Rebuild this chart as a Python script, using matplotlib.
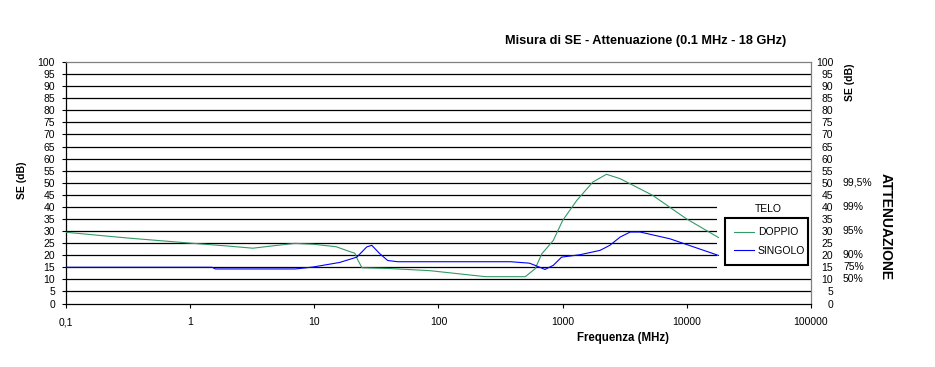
import matplotlib
matplotlib.use('Agg')
import matplotlib.pyplot as plt
from matplotlib.patches import Rectangle

# Frequenze (MHz) e SE (dB)
freq_doppio = [0.1, 0.3, 1, 2, 3.2, 4.5, 7, 10, 15, 18.3, 21.2, 22.4, 24.2, 40, 85,
               240, 500, 600, 680, 840, 1000, 1300, 1750, 2250, 2900, 5300, 9900, 18000]
se_doppio = [29.5, 27.2, 25, 23.8, 22.9, 23.8, 24.9, 24.5, 23.5, 21.9, 20.8, 18, 14.8, 14.5, 13.6,
             11.1, 11.1, 14.4, 20.6, 26.1, 34.4, 42.7, 50.3, 53.5, 51.7, 44.8, 35.1, 27.3]

freq_singolo = [0.1, 1.5, 1.6, 7, 9.75, 16, 22, 26.4, 29, 33.7, 39, 47, 100, 380, 540,
                620, 720, 840, 980, 1380, 2000, 2400, 2900, 3500, 4200, 7300, 18000]
se_singolo = [15, 15, 14.3, 14.3, 15.1, 17, 19.2, 23.4, 24.1, 20.6, 17.8, 17.3, 17.3, 17.3, 16.7,
              15.5, 14.1, 15.8, 19.2, 20.2, 22, 24.1, 27.5, 29.6, 29.6, 26.8, 19.9]

x_ticks = [0.1, 1, 10, 100, 1000, 10000, 100000]
x_labels = ['0,1', '1', '10', '100', '1000', '10000', '100000']
y_ticks = list(range(0, 101, 5))

att_se = [50, 40, 30, 20, 15, 10]
att_labels = ['99,5%', '99%', '95%', '90%', '75%', '50%']

plt.rcParams['font.family'] = ['Liberation Sans', 'DejaVu Sans']
plt.rcParams['font.size'] = 7.5

fig = plt.figure(figsize=(9.35, 3.67), dpi=100)
ax = fig.add_axes([66 / 935, 1 - 303.5 / 367, 745 / 935, 241.5 / 367])

ax.plot(freq_doppio, se_doppio, color='#339966', lw=0.8, label='DOPPIO', zorder=3)
ax.plot(freq_singolo, se_singolo, color='#0000FF', lw=0.8, label='SINGOLO', zorder=3)

ax.set_xscale('log')
ax.set_xlim(0.1, 100000)
ax.set_ylim(0, 100)
ax.set_xticks(x_ticks)
ax.set_xticklabels(x_labels)
ax.minorticks_off()
ax.set_yticks(y_ticks)
ax.tick_params(axis='both', direction='out', length=3, width=0.8, color='black')
ax.tick_params(axis='x', pad=7)
ax.tick_params(axis='y', pad=5)

ax.set_axisbelow(True)
ax.yaxis.grid(True, color='black', lw=0.9)
ax.yaxis.get_gridlines()[-1].set_visible(False)
ax.yaxis.get_gridlines()[0].set_visible(False)
for s in ['left', 'bottom']:
    ax.spines[s].set_color('black')
    ax.spines[s].set_linewidth(0.9)
for s in ['top', 'right']:
    ax.spines[s].set_color('#808080')
    ax.spines[s].set_linewidth(0.9)

# zona bianca della legenda
ax.add_patch(Rectangle(((717 - 66) / 745, (303.5 - 273) / 241.5), (811 - 717) / 745, 73 / 241.5,
                       transform=ax.transAxes, facecolor='white', edgecolor='none', zorder=1.5))

ax.set_ylabel('SE (dB)', fontweight='bold', fontsize=7.5)
ax.yaxis.set_label_coords((27 - 66) / 745, 0.51)
ax.set_xlabel('Frequenza (MHz)', fontweight='bold', fontsize=8.3, va='center')
ax.xaxis.set_label_coords((623 - 66) / 745, (303.5 - 338) / 241.5)

ax.text((646 - 66) / 745, (303.5 - 41) / 241.5, 'Misura di SE - Attenuazione (0.1 MHz - 18 GHz)',
        transform=ax.transAxes, ha='center', va='center', fontweight='bold', fontsize=9.2)

lx0 = (725 - 66) / 745
lx1 = (808 - 66) / 745
ly1 = (303.5 - 218) / 241.5
leg = ax.legend(loc='upper left', bbox_to_anchor=(lx0, ly1 - 0.3, lx1 - lx0, 0.3), mode='expand',
                frameon=True, fancybox=False, framealpha=1, edgecolor='black',
                handlelength=1.9, handletextpad=0.35, borderpad=0.9, labelspacing=0.8,
                borderaxespad=0)
leg.get_frame().set_linewidth(1.5)
ax.text((768 - 66) / 745, (303.5 - 209) / 241.5, 'TELO', transform=ax.transAxes,
        ha='center', va='center', zorder=6)

# asse destro
ax2 = ax.twinx()
ax2.set_ylim(0, 100)
ax2.set_yticks(y_ticks)
ax2.tick_params(axis='y', length=0, pad=16)
for lab in ax2.get_yticklabels():
    lab.set_ha('right')
for s in ax2.spines.values():
    s.set_visible(False)

for v, t in zip(att_se, att_labels):
    ax2.text((843 - 66) / 745, v, t, transform=ax2.get_yaxis_transform(), ha='left', va='center')

ax2.text((850 - 66) / 745, (303.5 - 82) / 241.5, 'SE (dB)', transform=ax2.transAxes,
         rotation=90, ha='center', va='center', fontweight='bold', fontsize=7.5)
ax2.text((886 - 66) / 745, (303.5 - 227) / 241.5, 'ATTENUAZIONE', transform=ax2.transAxes,
         rotation=-90, ha='center', va='center', fontweight='bold', fontsize=10)

fig.savefig('out.png', dpi=100)
